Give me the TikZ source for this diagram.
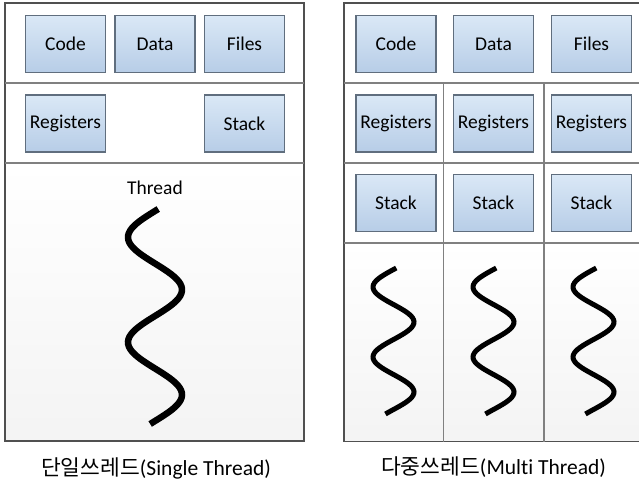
\documentclass[tikz,border=0pt]{standalone}
\usepackage{fontspec}
\setmainfont{Carlito}[Ligatures=NoCommon]
\newfontfamily\kofont{Noto Sans CJK KR}
\definecolor{boxtop}{RGB}{218,232,246}
\definecolor{boxbottom}{RGB}{183,205,231}
\definecolor{boxline}{RGB}{96,110,126}
\definecolor{panelline}{RGB}{80,80,80}
\definecolor{divline}{RGB}{128,128,128}
\tikzset{
  membox/.style={draw=boxline, line width=1.1pt, top color=boxtop, bottom color=boxbottom,
    minimum width=80pt, minimum height=57pt, inner sep=0pt, font=\fontsize{19.5}{22}\selectfont},
  panel/.style={draw=panelline, line width=1.3pt},
  divider/.style={draw=divline, line width=1.5pt},
  threadline/.style={line width=6.5pt, black},
  caption/.style={font=\fontsize{21.5}{24}\selectfont}
}
\begin{document}
\begin{tikzpicture}[x=1pt, y=-1pt]
                \useasboundingbox (0,0) rectangle (639,485);
                % single thread
                \shade[top color=white, bottom color=gray!9] (5,163) rectangle (304,441);
                \draw[panel] (5,3) rectangle (304,441);
                \draw[divider] (5,83) -- (304,83);
                \draw[divider] (5,163) -- (304,163);
                \node[membox] (code1) at (65.5,44) {Code};
                \node[membox] (data1) at (155,44) {Data};
                \node[membox] (files1) at (244.5,44) {Files};
                \node[membox] (regs1) at (65.5,123.5) {Registers};
                \node[membox] (stack1) at (244.5,123.5) {Stack};
                \node[font=\fontsize{19.5}{22}\selectfont] (thread1) at (155,188) {Thread};
                \draw[threadline] plot[domain=209:424, samples=90] ({155-27*sin(3.42857*(\x-211))}, \x);
                \node[caption] (single) at (156,468) {{\kofont 단일쓰레드}(Single Thread)};
                % multi thread
                \begin{scope}
                \clip (0,0) rectangle (639,485);
                \shade[top color=white, bottom color=gray!9] (344,243) rectangle (645,441.5);
                \draw[panel] (344,3) rectangle (645,441.5);
                \draw[divider] (344,83) -- (645,83);
                \draw[divider] (344,163) -- (645,163);
                \draw[divider] (344,243) -- (645,243);
                \draw[divider] (443.5,83) -- (443.5,441.5);
                \draw[divider] (544,83) -- (544,441.5);
                \end{scope}
                \node[membox] (code2) at (396,44) {Code};
                \node[membox] (data2) at (493.5,44) {Data};
                \node[membox] (files2) at (591.5,44) {Files};
                \node[membox] (regs2) at (396,123.5) {Registers};
                \node[membox] (regs3) at (493.5,123.5) {Registers};
                \node[membox] (regs4) at (591.5,123.5) {Registers};
                \node[membox] (stack2) at (396,203) {Stack};
                \node[membox] (stack3) at (493.5,203) {Stack};
                \node[membox] (stack4) at (591.5,203) {Stack};
                \draw[threadline, line width=5pt] plot[domain=268:414, samples=80] ({393.5-20.5*sin(5.142857*(\x-269.5))}, \x);
                \draw[threadline, line width=5pt] plot[domain=268:414, samples=80] ({493.5-20.5*sin(5.142857*(\x-269.5))}, \x);
                \draw[threadline, line width=5pt] plot[domain=268:414, samples=80] ({593.5-20.5*sin(5.142857*(\x-269.5))}, \x);
                \node[caption] (multi) at (493.5,467) {{\kofont 다중쓰레드}(Multi Thread)};
              \end{tikzpicture}
\end{document}
